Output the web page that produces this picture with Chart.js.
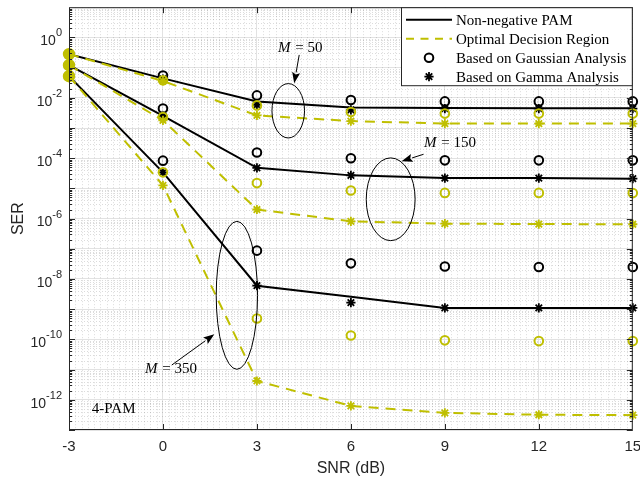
<!DOCTYPE html>
<html>
<head>
<meta charset="utf-8">
<script src="https://cdn.jsdelivr.net/npm/chart.js@4"></script>
<style>
  html, body { margin: 0; padding: 0; background: #fff; }
</style>
</head>
<body>
<canvas id="ser" width="640" height="480"></canvas>
<script>
const snr = [-3, 0, 3, 6, 9, 12, 15];

// M = 50
const nnPam50 = [2.8e-1, 4.4e-2, 7.6e-3, 4.8e-3, 4.6e-3, 4.5e-3, 4.5e-3];
const odr50 = [2.8e-1, 3.6e-2, 2.6e-3, 1.7e-3, 1.4e-3, 1.4e-3, 1.4e-3];
const gaussNn50 = [2.8e-1, 5.5e-2, 1.2e-2, 8.5e-3, 7.6e-3, 7.6e-3, 7.6e-3];
const gaussOdr50 = [2.8e-1, 3.8e-2, 5.6e-3, 3.4e-3, 3.0e-3, 3.0e-3, 3.0e-3];
const gammaNn50 = [2.8e-1, 4.2e-2, 5.8e-3, 4.0e-3, 4.4e-3, 4.4e-3, 4.4e-3];
const gammaOdr50 = [2.8e-1, 3.6e-2, 2.6e-3, 1.7e-3, 1.4e-3, 1.4e-3, 1.4e-3];

// M = 150
const nnPam150 = [1.2e-1, 2.5e-3, 4.8e-5, 2.7e-5, 2.2e-5, 2.2e-5, 2.1e-5];
const odr150 = [1.2e-1, 1.8e-3, 2.0e-6, 8.1e-7, 6.8e-7, 6.6e-7, 6.5e-7];
const gaussNn150 = [1.2e-1, 4.4e-3, 1.55e-4, 1.0e-4, 8.5e-5, 8.5e-5, 8.5e-5];
const gaussOdr150 = [1.2e-1, 2.3e-3, 1.5e-5, 8.5e-6, 7.1e-6, 7.1e-6, 7.0e-6];
const gammaNn150 = [1.2e-1, 2.5e-3, 4.8e-5, 2.7e-5, 2.2e-5, 2.2e-5, 2.1e-5];
const gammaOdr150 = [1.2e-1, 1.8e-3, 2.0e-6, 8.1e-7, 6.8e-7, 6.6e-7, 6.5e-7];

// M = 350
const nnPam350 = [5.2e-2, 3.4e-5, 6.0e-9, 2.6e-9, 1.1e-9, 1.1e-9, 1.1e-9];
const odr350 = [5.2e-2, 1.26e-5, 4.2e-12, 6.3e-13, 3.7e-13, 3.2e-13, 3.1e-13];
const gaussNn350 = [5.2e-2, 8.3e-5, 8.7e-8, 3.3e-8, 2.6e-8, 2.5e-8, 2.5e-8];
const gaussOdr350 = [5.2e-2, 3.4e-5, 4.9e-10, 1.35e-10, 9.3e-11, 8.8e-11, 8.8e-11];
const gammaNn350 = [5.2e-2, 3.4e-5, 6.0e-9, 1.66e-9, 1.1e-9, 1.1e-9, 1.1e-9];
const gammaOdr350 = [5.2e-2, 1.26e-5, 4.2e-12, 6.3e-13, 3.7e-13, 3.2e-13, 3.1e-13];

const xTicks = [-3, 0, 3, 6, 9, 12, 15];
const yTickExps = [0, -2, -4, -6, -8, -10, -12];
const legendLabels = ["Non-negative PAM", "Optimal Decision Region", "Based on Gaussian Analysis", "Based on Gamma Analysis"];

// annotations, in data units (x in dB, y in log10)
const ellipses = [
    { x: 4.0, y: -2.43, rx: 0.52, ry: 0.9 },
    { x: 7.27, y: -5.36, rx: 0.78, ry: 1.37 },
    { x: 2.36, y: -8.54, rx: 0.66, ry: 2.45 }
];
const notes = [
    { m: "50", x: 4.37, y: -0.35, from: [4.35, -0.58], to: [4.19, -1.52] },
    { m: "150", x: 9.15, y: -3.51, from: [8.32, -3.87], to: [7.62, -4.1] },
    { m: "350", x: 0.24, y: -10.99, from: [0.28, -10.85], to: [1.64, -9.83] }
];

const black = "#000000";
const yellow = "#bfbf00";
const axisColor = "#262626";

function pts(vals) {
    return snr.map((x, i) => ({ x: x, y: vals[i] }));
}

function markers(vals, color, style, filledFirst) {
    return {
        data: pts(vals),
        showLine: false,
        clip: false,
        pointStyle: style,
        pointRadius: (c) => (style === "star" ? 4.6 : (filledFirst && c.dataIndex === 0 ? 5.2 : 4.3)),
        pointBorderWidth: style === "star" ? 1.8 : 2,
        pointBorderColor: color,
        pointBackgroundColor: (c) => (filledFirst && c.dataIndex === 0 ? color : "rgba(0,0,0,0)"),
        borderColor: color
    };
}

function curve(vals, color, dashed) {
    return {
        data: pts(vals),
        borderColor: color,
        borderWidth: 2,
        borderDash: dashed ? [10, 7] : [],
        pointRadius: 0,
        tension: 0,
        fill: false
    };
}

// first datasets are drawn on top
const datasets = [
    markers(gammaOdr50, yellow, "star"), markers(gammaOdr150, yellow, "star"), markers(gammaOdr350, yellow, "star"),
    markers(gaussOdr50, yellow, "circle", true), markers(gaussOdr150, yellow, "circle", true), markers(gaussOdr350, yellow, "circle", true),
    markers(gammaNn50, black, "star"), markers(gammaNn150, black, "star"), markers(gammaNn350, black, "star"),
    markers(gaussNn50, black, "circle"), markers(gaussNn150, black, "circle"), markers(gaussNn350, black, "circle"),
    curve(odr50, yellow, true), curve(odr150, yellow, true), curve(odr350, yellow, true),
    curve(nnPam50, black, false), curve(nnPam150, black, false), curve(nnPam350, black, false)
];

const decor = {
    id: "decor",
    beforeDatasetsDraw(chart) {
        const { ctx, chartArea: a, scales: { x, y } } = chart;
        ctx.save();
        ctx.beginPath();
        ctx.rect(a.left, a.top, a.right - a.left, a.bottom - a.top);
        ctx.clip();
        ctx.strokeStyle = "rgba(0,0,0,0.14)";
        ctx.lineWidth = 1;
        ctx.setLineDash([1, 2]);
        for (let i = 1; i < 90; i++) {
            if (i % 15 === 0) continue;
            const px = Math.round(x.getPixelForValue(-3 + i * 0.2)) + 0.5;
            ctx.beginPath();
            ctx.moveTo(px, a.top);
            ctx.lineTo(px, a.bottom);
            ctx.stroke();
        }
        for (let e = -13; e < 1; e++) {
            for (let k = 2; k <= 9; k++) {
                const py = Math.round(y.getPixelForValue(k * Math.pow(10, e))) + 0.5;
                ctx.beginPath();
                ctx.moveTo(a.left, py);
                ctx.lineTo(a.right, py);
                ctx.stroke();
            }
        }
        ctx.restore();
    },
    afterDraw(chart) {
        const { ctx, chartArea: a, scales: { x, y } } = chart;
        const px = (v) => x.getPixelForValue(v);
        const py = (lg) => y.getPixelForValue(Math.pow(10, lg));
        ctx.save();

        // box and inner ticks
        ctx.strokeStyle = axisColor;
        ctx.lineWidth = 1;
        ctx.strokeRect(a.left + 0.5, a.top + 0.5, a.right - a.left - 1, a.bottom - a.top - 1);
        ctx.beginPath();
        for (let v = 0; v < 15; v += 3) {
            const xx = Math.round(px(v)) + 0.5;
            ctx.moveTo(xx, a.bottom); ctx.lineTo(xx, a.bottom - 6);
            ctx.moveTo(xx, a.top); ctx.lineTo(xx, a.top + 6);
        }
        for (let e = -13; e <= 0; e++) {
            for (let k = 1; k <= 9; k++) {
                const len = k === 1 ? 6 : 3;
                const yy = Math.round(y.getPixelForValue(k * Math.pow(10, e))) + 0.5;
                ctx.moveTo(a.left, yy); ctx.lineTo(a.left + len, yy);
                ctx.moveTo(a.right, yy); ctx.lineTo(a.right - len, yy);
            }
        }
        ctx.stroke();

        // x tick labels
        ctx.fillStyle = axisColor;
        ctx.textBaseline = "middle";
        ctx.textAlign = "center";
        ctx.font = '15px "Liberation Sans"';
        xTicks.forEach((v) => ctx.fillText(String(v), px(v), 447));

        // y tick labels with superscripts
        yTickExps.forEach((e) => {
            const yy = py(e);
            ctx.font = '11px "Liberation Sans"';
            const sup = String(e);
            const sw = ctx.measureText(sup).width;
            ctx.textAlign = "left";
            ctx.fillText(sup, 62 - sw, yy - 4);
            ctx.font = '14px "Liberation Sans"';
            ctx.textAlign = "right";
            ctx.fillText("10", 62 - sw, yy + 4);
        });

        // axis titles
        ctx.font = '16px "Liberation Sans"';
        ctx.textAlign = "center";
        ctx.fillText("SNR (dB)", (a.left + a.right) / 2, 469);
        ctx.save();
        ctx.translate(19, (a.top + a.bottom) / 2);
        ctx.rotate(-Math.PI / 2);
        ctx.fillText("SER", 0, 0);
        ctx.restore();

        // ellipses
        ctx.strokeStyle = black;
        ctx.lineWidth = 1;
        ellipses.forEach((el) => {
            const cx = px(el.x), cy = py(el.y);
            const rx = px(el.x + el.rx) - cx, ry = cy - py(el.y + el.ry);
            ctx.beginPath();
            ctx.ellipse(cx, cy, rx, ry, 0, 0, Math.PI * 2);
            ctx.stroke();
        });

        // arrows and M labels
        ctx.fillStyle = black;
        notes.forEach((n) => {
            const x0 = px(n.from[0]), y0 = py(n.from[1]);
            const x1 = px(n.to[0]), y1 = py(n.to[1]);
            const ang = Math.atan2(y1 - y0, x1 - x0);
            const hl = 11, hw = 4;
            const bx = x1 - hl * Math.cos(ang), by = y1 - hl * Math.sin(ang);
            ctx.beginPath();
            ctx.moveTo(x0, y0);
            ctx.lineTo(bx, by);
            ctx.stroke();
            ctx.beginPath();
            ctx.moveTo(x1, y1);
            ctx.lineTo(bx - hw * Math.sin(ang), by + hw * Math.cos(ang));
            ctx.lineTo(bx + 2 * Math.cos(ang), by + 2 * Math.sin(ang));
            ctx.lineTo(bx + hw * Math.sin(ang), by - hw * Math.cos(ang));
            ctx.closePath();
            ctx.fill();

            const rest = " = " + n.m;
            ctx.font = 'italic 15px "Liberation Serif"';
            const mw = ctx.measureText("M").width;
            ctx.font = '15px "Liberation Serif"';
            const rw = ctx.measureText(rest).width;
            const left = px(n.x) - (mw + rw) / 2, ty = py(n.y);
            ctx.textAlign = "left";
            ctx.font = 'italic 15px "Liberation Serif"';
            ctx.fillText("M", left, ty);
            ctx.font = '15px "Liberation Serif"';
            ctx.fillText(rest, left + mw + 1, ty);
        });

        ctx.font = '15px "Liberation Serif"';
        ctx.textAlign = "left";
        ctx.fillText("4-PAM", px(-2.27), py(-12.31));

        // legend box
        const lx = 401.5, ly = a.top + 0.5, lw = a.right - 0.5 - lx, lh = 78;
        ctx.fillStyle = "#ffffff";
        ctx.fillRect(lx, ly, lw, lh);
        ctx.strokeStyle = axisColor;
        ctx.strokeRect(lx, ly, lw, lh);
        legendLabels.forEach((lab, i) => {
            const ry = ly + 12 + i * 19;
            ctx.lineWidth = 2;
            if (i === 0 || i === 1) {
                ctx.strokeStyle = i === 0 ? black : yellow;
                ctx.setLineDash(i === 0 ? [] : [8, 6.5]);
                ctx.beginPath();
                ctx.moveTo(406, ry);
                ctx.lineTo(452, ry);
                ctx.stroke();
                ctx.setLineDash([]);
            } else if (i === 2) {
                ctx.strokeStyle = black;
                ctx.beginPath();
                ctx.arc(429, ry, 4.3, 0, Math.PI * 2);
                ctx.stroke();
            } else {
                ctx.strokeStyle = black;
                ctx.lineWidth = 1.8;
                ctx.beginPath();
                for (let k = 0; k < 4; k++) {
                    const t = k * Math.PI / 4;
                    ctx.moveTo(429 - 4.6 * Math.cos(t), ry - 4.6 * Math.sin(t));
                    ctx.lineTo(429 + 4.6 * Math.cos(t), ry + 4.6 * Math.sin(t));
                }
                ctx.stroke();
            }
            ctx.fillStyle = black;
            ctx.font = '15px "Liberation Serif"';
            ctx.textBaseline = "middle";
            ctx.fillText(lab, 456, ry + 1);
        });
        ctx.restore();
    }
};

new Chart(document.getElementById("ser"), {
    type: "line",
    data: { datasets: datasets },
    options: {
        responsive: false,
        devicePixelRatio: 1,
        animation: false,
        events: [],
        layout: { padding: { left: 0, top: 5, right: 6, bottom: 0 } },
        plugins: { legend: { display: false }, tooltip: { enabled: false } },
        scales: {
            x: {
                type: "linear",
                min: -3,
                max: 15,
                ticks: { stepSize: 3, display: false },
                grid: { color: "#e2e2e2", drawTicks: false },
                border: { display: false },
                afterFit: (s) => { s.height = 50; }
            },
            y: {
                type: "logarithmic",
                min: 1e-13,
                max: 10,
                ticks: { display: false },
                afterBuildTicks: (s) => {
                    const t = [];
                    for (let e = -13; e <= 1; e++) t.push({ value: Math.pow(10, e) });
                    s.ticks = t;
                },
                grid: { color: "#e2e2e2", drawTicks: false },
                border: { display: false },
                afterFit: (s) => { s.width = 69; }
            }
        }
    },
    plugins: [decor]
});
</script>
</body>
</html>
